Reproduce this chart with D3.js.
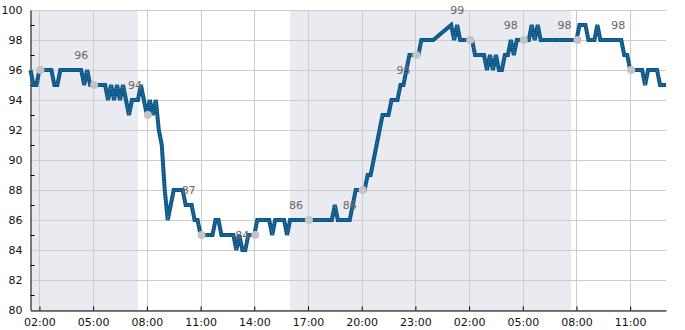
<html>
  <head>
    <style>
    body {
      margin: 0px;
      background: #fff;
    }
    </style>
  </head>
  <body>
    <div id="elm"></div>

    <script src="https://cdn.jsdelivr.net/npm/d3@7"></script>
    <script>
    'use strict';

    // one reading every 10 minutes, starting 01:30 on day one (null = no reading)
    var startTime = new Date(2024, 0, 1, 1, 30);
    var stepMinutes = 10;
    var spo2 = [
      96, 95, 95, 96, 96, 96, 96, 96, 95, 95, 96, 96, 96, 96, 96, 96, 96, 96, 95, 96,
      95, 95, 95, 95, 95, 95, 94, 95, 94, 95, 94, 95, 94, 93, 94, 94, 94, 95, 94, 93,
      94, 93, 94, 92, 91, 88, 86, 87, 88, 88, 88, 88, 87, 87, 87, 86, 86, 85, 85, 85,
      85, 85, 86, 86, 85, 85, 85, 85, 85, 84, 85, 84, 84, 85, 85, 85, 86, 86, 86, 86,
      86, 85, 86, 86, 86, 86, 85, 86, 86, 86, 86, 86, 86, 86, 86, 86, 86, 86, 86, 86,
      86, 86, 87, 86, 86, 86, 86, 86, 87, 88, 88, 88, 88, 89, 89, 90, 91, 92, 93, 93,
      93, 94, 94, 94, 95, 95, 96, 97, 97, 97, 97, 98, 98, 98, 98, 98, null, null, null, null,
      null, 99, 98, 99, 98, 98, 98, 98, 98, 97, 97, 97, 97, 96, 97, 96, 97, 96, 96, 97,
      97, 98, 97, 98, 98, 98, 98, 98, 99, 98, 99, 98, 98, 98, 98, 98, 98, 98, 98, 98,
      98, 98, 98, 98, 99, 99, 99, 98, 98, 98, 99, 98, 98, 98, 98, 98, 98, 98, 98, 97,
      97, 96, 96, 96, 96, 96, 95, 96, 96, 96, 96, 95, 95, 95
    ];

    // text labels placed 2h20 after each 3-hour marker
    var labelValues = [96, 94, 87, 84, 86, 86, 95, 99, 98, 98, 98];

    // shaded bands [from, to]
    var bands = [
      [new Date(2024, 0, 1, 1, 30), new Date(2024, 0, 1, 7, 30)],
      [new Date(2024, 0, 1, 16, 0), new Date(2024, 0, 2, 7, 42)]
    ];

    var firstTick = new Date(2024, 0, 1, 2, 0);
    var yTicks = [80, 82, 84, 86, 88, 90, 92, 94, 96, 98, 100];
    var yMinor = [81, 83, 85, 87, 89, 91, 93, 95, 97, 99];

    var width = 685, height = 330;
    var margin = { left: 30.5, right: 19, top: 10, bottom: 20 };

    var data = spo2.map(function(v, i) {
      return { t: new Date(startTime.getTime() + i * stepMinutes * 60000), v: v };
    });
    var endTime = data[data.length - 1].t;

    var x = d3.scaleTime()
      .domain([startTime, endTime])
      .range([margin.left, width - margin.right]);
    var y = d3.scaleLinear()
      .domain([80, 100])
      .range([height - margin.bottom, margin.top]);

    var xTickTimes = d3.timeHour.range(firstTick, endTime, 3);

    var svg = d3.select('#elm').append('svg')
      .attr('width', width)
      .attr('height', height)
      .style('font-family', '"DejaVu Sans", sans-serif');

    // bands
    svg.append('g').selectAll('rect').data(bands).enter().append('rect')
      .attr('x', function(d) { return x(d[0]); })
      .attr('y', y(100))
      .attr('width', function(d) { return x(d[1]) - x(d[0]); })
      .attr('height', y(80) - y(100))
      .attr('fill', '#eaebf1');

    // grid
    var grid = svg.append('g').attr('stroke', '#cccccc').attr('stroke-width', 1);
    grid.selectAll('.gy').data(yTicks).enter().append('line')
      .attr('x1', margin.left).attr('x2', width - margin.right)
      .attr('y1', function(d) { return Math.round(y(d)) + 0.5; })
      .attr('y2', function(d) { return Math.round(y(d)) + 0.5; });
    grid.selectAll('.gx').data(xTickTimes).enter().append('line')
      .attr('x1', function(d) { return Math.round(x(d)) + 0.5; })
      .attr('x2', function(d) { return Math.round(x(d)) + 0.5; })
      .attr('y1', y(100)).attr('y2', y(80));

    // axes
    var xAxis = d3.axisBottom(x)
      .tickValues(xTickTimes)
      .tickFormat(d3.timeFormat('%H:%M'))
      .tickSizeInner(-4)
      .tickSizeOuter(0)
      .tickPadding(8);
    var gx = svg.append('g')
      .attr('transform', 'translate(0,' + (Math.round(y(80)) + 0.5) + ')')
      .call(xAxis);

    var yAxis = d3.axisLeft(y)
      .tickValues(yTicks)
      .tickSizeInner(0)
      .tickSizeOuter(0)
      .tickPadding(8);
    var gy = svg.append('g')
      .attr('transform', 'translate(' + margin.left + ',0)')
      .call(yAxis);
    gy.selectAll('.minor').data(yMinor).enter().append('line')
      .attr('x1', 0).attr('x2', 4)
      .attr('y1', function(d) { return Math.round(y(d)) + 0.5; })
      .attr('y2', function(d) { return Math.round(y(d)) + 0.5; })
      .attr('stroke', '#000');

    [gx, gy].forEach(function(g) {
      g.selectAll('text').attr('font-size', 11).attr('fill', '#111')
        .style('font-family', '"DejaVu Sans", sans-serif');
      g.select('.domain').attr('stroke', '#000');
      g.selectAll('.tick line').attr('stroke', '#000');
    });

    // the series
    var known = data.filter(function(d) { return d.v !== null; });
    var line = d3.line()
      .x(function(d) { return x(d.t); })
      .y(function(d) { return y(d.v); });

    svg.append('path')
      .datum(known)
      .attr('d', line)
      .attr('fill', 'none')
      .attr('stroke', '#0b5689')
      .attr('stroke-width', 4);
    svg.append('path')
      .datum(known)
      .attr('d', line)
      .attr('fill', 'none')
      .attr('stroke', '#ffffff')
      .attr('stroke-opacity', 0.55)
      .attr('stroke-width', 0.8)
      .attr('stroke-dasharray', '0.7,1.8');

    // markers at each 3-hour mark
    var markers = xTickTimes.map(function(t) {
      return data.find(function(d) { return d.t.getTime() === t.getTime(); });
    }).filter(function(d) { return d && d.v !== null; });

    svg.append('g').selectAll('circle').data(markers).enter().append('circle')
      .attr('cx', function(d) { return x(d.t) + 1; })
      .attr('cy', function(d) { return y(d.v); })
      .attr('r', 4)
      .attr('fill', '#c4c4c4');

    // value labels
    svg.append('g').selectAll('text').data(labelValues).enter().append('text')
      .attr('x', function(d, i) { return x(d3.timeMinute.offset(xTickTimes[i], 140)); })
      .attr('y', function(d) { return y(d + 1) + 4; })
      .attr('text-anchor', 'middle')
      .attr('font-size', 11)
      .attr('fill', '#666')
      .text(function(d) { return d; });
    </script>
  </body>
</html>
